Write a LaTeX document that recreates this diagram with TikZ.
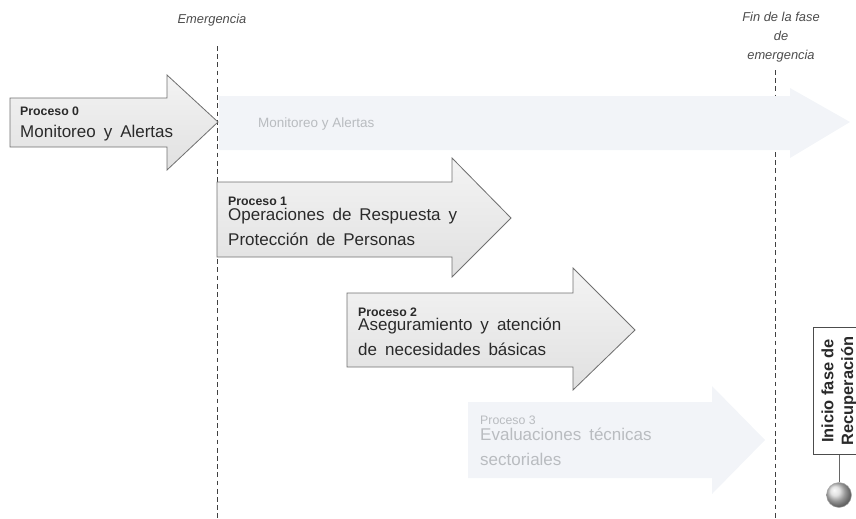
\documentclass[tikz,border=0pt]{standalone}
\usepackage{fontspec}
\setmainfont{Liberation Sans}
\newfontfamily\procfont[WordSpace=1.7]{Liberation Sans}
\usetikzlibrary{positioning}

\definecolor{procline}{HTML}{707070}
\definecolor{proctext}{HTML}{2A2A2A}
\definecolor{ghostfill}{HTML}{F2F4F8}
\definecolor{ghosttext}{HTML}{B9BCC0}

\begin{document}
\begin{tikzpicture}[x=0.03cm,y=-0.03cm,
  proc/.style={draw=procline,line width=0.7pt,top color=gray!9,bottom color=gray!24},
  ghost/.style={fill=ghostfill,draw=none},
  ptitle/.style={anchor=base west,inner sep=0pt,font=\bfseries\fontsize{10.5}{12}\selectfont,text=proctext},
  pbody/.style={anchor=base west,inner sep=0pt,align=left,font=\procfont\fontsize{14.5}{20.5}\selectfont,text=proctext},
  gtitle/.style={ptitle,font=\fontsize{10.5}{12}\selectfont,text=ghosttext},
  gbody/.style={pbody,text=ghosttext},
  phase/.style={align=center,inner sep=0pt,font=\itshape\fontsize{11}{16}\selectfont,text=black!70},
  milestone/.style={draw=black!75,line width=0.8pt,dash pattern=on 4pt off 3pt}]

\useasboundingbox (0,0) rectangle (856,518);

% phase limits
\node[phase] (emerg) at (212,20){Emergencia};
\node[phase] (fin) at (781,37){Fin de la fase\\de\\emergencia};
\coordinate (e1) at (217,46);
\coordinate (e2) at (217,518);
\coordinate (f1) at (775,70);
\coordinate (f2) at (775,518);
\draw[milestone] (e1) -- (e2);
\draw[milestone] (f1) -- (f2);

% faded processes
\fill[ghost] (219,96) -- (790,96) -- (790,88) -- (850,122) -- (790,158) -- (790,150) -- (219,150) -- cycle;
\node[gbody,font=\fontsize{11.5}{14}\selectfont] (g0) at (258,127){Monitoreo y Alertas};
\fill[ghost] (468,402) -- (712,402) -- (712,386) -- (765,440) -- (712,494) -- (712,478) -- (468,478) -- cycle;
\node[gtitle] (p3t) at (480,424){Proceso 3};
\node[gbody] (p3b) at (480,465){Evaluaciones técnicas\\sectoriales};

% processes
\draw[proc] (10,98) -- (167,98) -- (167,75) -- (218,122) -- (167,170) -- (167,147) -- (10,147) -- cycle;
\node[ptitle] (p0t) at (20,115){Proceso 0};
\node[pbody] (p0b) at (20,137){Monitoreo y Alertas};

\draw[proc] (217,182) -- (452,182) -- (452,158) -- (511,218) -- (452,277) -- (452,257) -- (217,257) -- cycle;
\node[ptitle] (p1t) at (228,205){Proceso 1};
\node[pbody] (p1b) at (228,245){Operaciones de Respuesta y\\Protección de Personas};

\draw[proc] (347,293) -- (573,293) -- (573,268) -- (635,330) -- (573,390) -- (573,367) -- (347,367) -- cycle;
\node[ptitle] (p2t) at (358,316){Proceso 2};
\node[pbody] (p2b) at (358,355){Aseguramiento y atención\\de necesidades básicas};

% start of recovery
\node[draw=black!70,line width=0.6pt,fill=white,rotate=90,minimum width=3.81cm,minimum height=1.55cm,
  align=center,font=\bfseries\fontsize{14}{17}\selectfont,text=proctext] (rec) at (839,391){Inicio fase de\\Recuperación};
\node[circle,minimum size=0.75cm,inner sep=0pt,ball color=gray!30,draw=black!35] (dot) at (839,495){};
\draw[black!60,line width=0.6pt] (rec) -- (dot);

\end{tikzpicture}
\end{document}
